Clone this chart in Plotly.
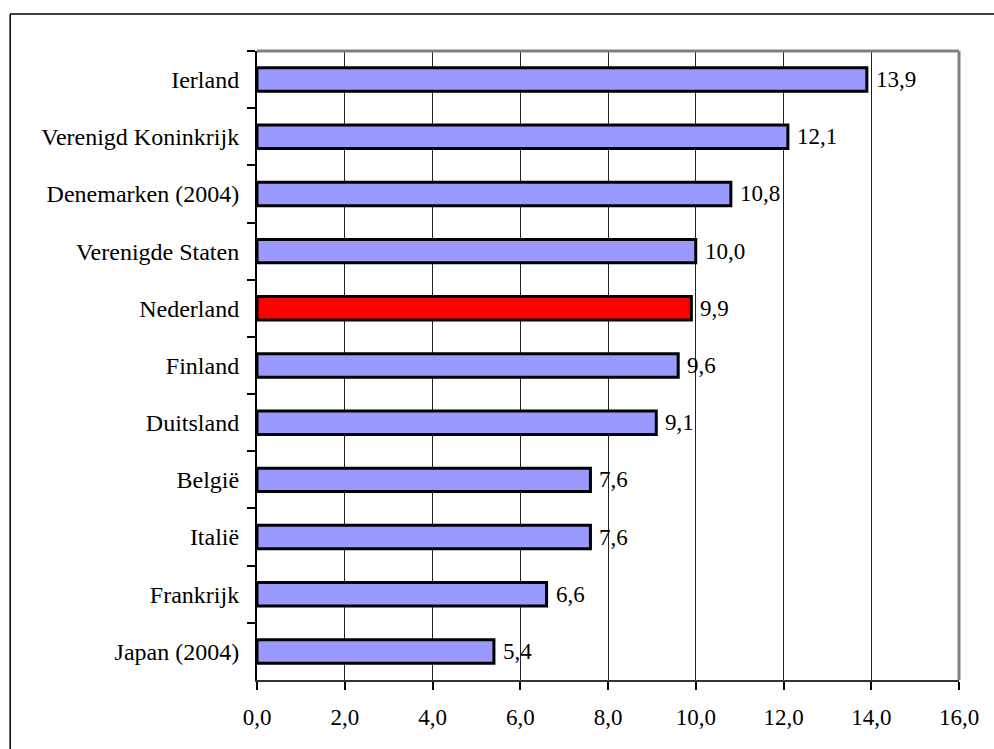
import plotly.graph_objects as go

countries = ["Ierland", "Verenigd Koninkrijk", "Denemarken (2004)", "Verenigde Staten",
             "Nederland", "Finland", "Duitsland", "België", "Italië", "Frankrijk", "Japan (2004)"]
values = [13.9, 12.1, 10.8, 10.0, 9.9, 9.6, 9.1, 7.6, 7.6, 6.6, 5.4]
highlight = "Nederland"
x_ticks = [0, 2, 4, 6, 8, 10, 12, 14, 16]

colors = ["#FF0000" if c == highlight else "#9999FF" for c in countries]
FONT = "Liberation Serif"

fig = go.Figure()
fig.add_trace(go.Bar(
    x=values, y=countries, orientation="h",
    marker=dict(color=colors, line=dict(color="black", width=3)),
    width=0.41, hoverinfo="skip",
))

annotations = []
for c, v in zip(countries, values):
    annotations.append(dict(
        x=v, y=c, xref="x", yref="y", text=f"{v:.1f}".replace(".", ","),
        showarrow=False, xanchor="left", yanchor="middle", xshift=7,
        font=dict(family=FONT, size=23, color="black"),
    ))

L, R, T, B = 257, 34.5, 51, 68.5
W, H = 994, 749
pw, ph = W - L - R, H - T - B

shapes = [
    # plot area top and right borders (gray)
    dict(type="line", xref="paper", yref="paper", x0=0, x1=1, y0=1, y1=1,
         line=dict(color="#808080", width=3), layer="above"),
    dict(type="line", xref="paper", yref="paper", x0=1, x1=1, y0=0, y1=1,
         line=dict(color="#808080", width=3), layer="above"),
    # outer frame (top and left)
    dict(type="line", xref="paper", yref="paper",
         x0=(10 - L) / pw, x1=(W + 5 - L) / pw,
         y0=(H - B - 14) / ph, y1=(H - B - 14) / ph,
         line=dict(color="black", width=1.5)),
    dict(type="line", xref="paper", yref="paper",
         x0=(10 - L) / pw, x1=(10 - L) / pw,
         y0=(H - B - 14) / ph, y1=(H - B - H - 5) / ph,
         line=dict(color="black", width=1.5)),
]

fig.update_layout(
    width=W, height=H, autosize=False,
    margin=dict(l=L, r=R, t=T, b=B, pad=0),
    paper_bgcolor="white", plot_bgcolor="white",
    showlegend=False, separators=",.",
    font=dict(family=FONT, size=23, color="black"),
    bargap=0.59,
    annotations=annotations, shapes=shapes,
    xaxis=dict(
        range=[0, 16], tickvals=x_ticks, tickformat=".1f",
        showgrid=True, gridcolor="#222222", gridwidth=1,
        showline=True, linecolor="#333333", linewidth=2,
        ticks="outside", ticklen=8, tickcolor="black", tickwidth=1.5,
        tickfont=dict(family=FONT, size=23), zeroline=False,
        fixedrange=True, ticklabelstandoff=7,
    ),
    yaxis=dict(
        categoryorder="array", categoryarray=countries, autorange="reversed",
        showgrid=False, showline=True, linecolor="black", linewidth=2,
        ticks="outside", ticklen=8, tickcolor="black", tickwidth=1.5,
        tickson="boundaries", ticklabelstandoff=11,
        tickfont=dict(family=FONT, size=24), zeroline=False,
        fixedrange=True,
    ),
)

fig.write_html("out.html", config={"displayModeBar": False},
               post_script="document.body.style.margin='0';document.body.style.overflow='hidden';")
